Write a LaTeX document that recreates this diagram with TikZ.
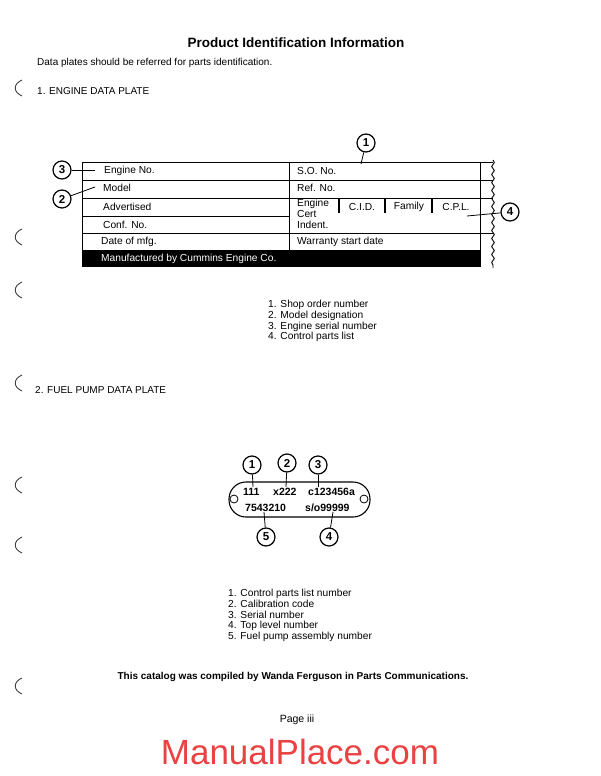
\documentclass[tikz,border=0pt]{standalone}
\usepackage{fontspec}
\setmainfont{Liberation Sans}
\usetikzlibrary{decorations.pathmorphing}
\definecolor{watermark}{RGB}{234,66,66}
\tikzstyle{callout} = 
[
	circle, 
	draw=black, 
	line width=1.2pt, 
	minimum size=18pt, 
	inner sep=0pt, 
	font=\fontsize{11.5}{11.5}\selectfont\bfseries
]
\tikzstyle{cell} = 
	[
		anchor=west, 
		inner sep=0pt, 
		font=\fontsize{10.2}{11}\selectfont
	]
\tikzstyle{platetext} = 
	[
		anchor=west, 
		inner sep=0pt, 
		font=\fontsize{10.5}{11}\selectfont\bfseries
	]
\tikzstyle{keylist} = 
	[
		anchor=north west, 
		inner sep=0pt, 
		align=left, 
		font=\fontsize{10.2}{10.8}\selectfont
	]
\tikzstyle{heading} = [anchor=west, inner sep=0pt, font=\fontsize{10}{11}\selectfont]
\tikzstyle{ruling} = [line width=0.9pt]
\tikzstyle{leader} = [line width=0.8pt]
\tikzstyle{punchmark} = [line width=0.9pt, black!75]

\begin{document}
\begin{tikzpicture}[x=1pt, y=-1pt]
	\useasboundingbox (0,0) rectangle (600,776);
	
	\node
	(Title)
	[font=\fontsize{13.5}{14}\selectfont\bfseries]
	at (296,43)
	{Product Identification Information};
	
	\node (Intro) [heading] at (37,63)
	{Data plates should be referred for parts identification.};
	
	\node (EngineHeading) [heading] at (37,91)
	{1. ENGINE DATA PLATE};
	
	% engine data plate
	\fill (82,250) rectangle (480,267);
	\draw [ruling] (82,162) -- (82,267);
	\draw [ruling] (289,162) -- (289,250);
	\draw [ruling] (480,162) -- (480,267);
	\foreach \y in {162,180,198,233}
		\draw [ruling] (82,\y) -- (493,\y);
	\draw [ruling] (82,216) -- (289,216);
	\foreach \x in {339,385,432}
		\draw [line width=1.4pt] (\x,198) -- (\x,213);
	\draw [ruling, decorate, decoration={snake, amplitude=1.3pt, segment length=8pt}]
		(493,160) -- (493,268);
	
	\node (EngineNo) [cell] at (104,171) {Engine No.};
	\node (Model) [cell] at (103,188) {Model};
	\node (Advertised) [cell] at (103,207) {Advertised};
	\node (ConfNo) [cell] at (103,225) {Conf. No.};
	\node (DateOfMfg) [cell] at (101,242) {Date of mfg.};
	\node (Maker) [cell, text=white] at (101,259) {Manufactured by Cummins Engine Co.};
	\node (SONo) [cell] at (297,171) {S.O. No.};
	\node (RefNo) [cell] at (297,188) {Ref. No.};
	\node
	(EngineCert)
	[
		cell,
		anchor=north west,
		align=left
	]
	at (297,199)
	{
		Engine\\Cert\\Indent.
	};
	\node (CID) [cell, anchor=center] at (362,207) {C.I.D.};
	\node (Family) [cell, anchor=center] at (409,207) {Family};
	\node (CPL) [cell, anchor=center] at (456,207) {C.P.L.};
	\node (Warranty) [cell] at (297,242) {Warranty start date};
	
	\node (CalloutOne) [callout] at (366,143) {1};
	\node (CalloutTwo) [callout] at (62,199) {2};
	\node (CalloutThree) [callout] at (62,170) {3};
	\node (CalloutFour) [callout] at (510,212) {4};
	\coordinate (SOTip) at (361,164);
	\coordinate (ModelTip) at (95,187);
	\coordinate (EngineTip) at (95,170);
	\coordinate (CPLTip) at (467,216);
	\draw [leader] (CalloutOne) -- (SOTip);
	\draw [leader] (CalloutTwo) -- (ModelTip);
	\draw [leader] (CalloutThree) -- (EngineTip);
	\draw [leader] (CalloutFour) -- (CPLTip);
	
	\node (EngineKey) [keylist] at (268,300)
	{1. Shop order number\\2. Model designation\\3. Engine serial number\\4. Control parts list};
	
	\node (PumpHeading) [heading] at (35,390)
	{2. FUEL PUMP DATA PLATE};
	
	% fuel pump data plate
	\draw [line width=1.1pt, rounded corners=17pt] (229,482) rectangle (370,517);
	\draw [line width=0.8pt] (234,499) circle (4);
	\draw [line width=0.8pt] (364,499) circle (4);
	
	\node (PartNo) [platetext] at (243,492) {111};
	\node (Calib) [platetext] at (273,492) {x222};
	\node (Serial) [platetext] at (308,492) {c123456a};
	\node (Assembly) [platetext] at (245,508) {7543210};
	\node (TopLevel) [platetext] at (305,508) {s/o99999};
	
	\node (PumpOne) [callout] at (252,465) {1};
	\node (PumpTwo) [callout] at (287,463) {2};
	\node (PumpThree) [callout] at (318,465) {3};
	\node (PumpFour) [callout] at (329,537) {4};
	\node (PumpFive) [callout] at (266,537) {5};
	\coordinate (PartTip) at (253,487);
	\coordinate (CalibTip) at (286,487);
	\coordinate (SerialTip) at (318,487);
	\coordinate (TopTip) at (333,512);
	\coordinate (AssemblyTip) at (264,512);
	\draw [leader] (PumpOne) -- (PartTip);
	\draw [leader] (PumpTwo) -- (CalibTip);
	\draw [leader] (PumpThree) -- (SerialTip);
	\draw [leader] (PumpFour) -- (TopTip);
	\draw [leader] (PumpFive) -- (AssemblyTip);
	
	\node (PumpKey) [keylist] at (228,589)
	{1. Control parts list number\\2. Calibration code\\3. Serial number\\4. Top level number\\5. Fuel pump assembly number};
	
	\node (Credit) [font=\fontsize{10}{11}\selectfont\bfseries] at (293,677)
	{This catalog was compiled by Wanda Ferguson in Parts Communications.};
	\node (PageNo) [font=\fontsize{10.5}{11}\selectfont] at (297,720) {Page iii};
	\node (Watermark) [font=\fontsize{35}{36}\selectfont, text=watermark] at (300,752)
	{ManualPlace.com};
	
	% punch marks down the left margin
	\foreach \y in {88,237,290,383,485,545,686}
		\draw [punchmark] (22,\y-8) .. controls (13,\y-4) and (13,\y+4) .. (22,\y+8);
	
\end{tikzpicture}
\end{document}
